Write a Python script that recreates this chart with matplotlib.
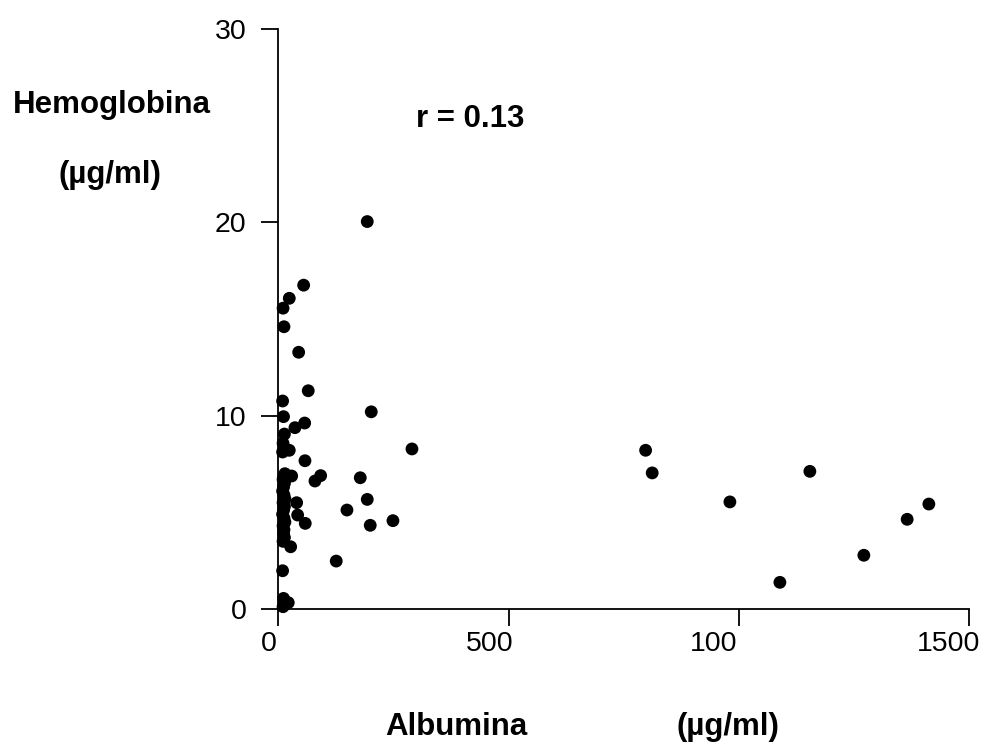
import matplotlib
matplotlib.use("Agg")
import matplotlib.pyplot as plt
import matplotlib.transforms as mtransforms

# Albumina (µg/ml) vs Hemoglobina (µg/ml)
albumina = [
    # dense cluster close to zero
    10, 12, 9, 11, 13, 10, 9, 14, 12, 10, 13, 11, 9, 12, 14, 10, 13, 11, 9, 12,
    14, 10, 12, 11, 13, 10, 9, 11, 10,
    # slightly right of the cluster
    23.5, 35.8, 23.5, 28.7, 16, 39.5, 41.7, 26.5, 21.3, 54.7, 43.9, 64.7, 56.9,
    57.6, 58.2, 79.3, 91.7, 125.5, 148.8, 177.7, 192.9, 192.9, 199.4, 201.6,
    248.7, 290,
    # far right
    797.6, 811.9, 980.7, 1089.3, 1154.4, 1271.7, 1365.8, 1412.9,
]
hemoglobina = [
    15.56, 14.6, 10.76, 9.95, 9.05, 8.57, 8.12, 7.0, 6.85, 6.7, 6.5, 6.3, 6.1,
    5.9, 5.7, 5.5, 5.3, 5.1, 4.9, 4.7, 4.5, 4.3, 4.1, 3.9, 3.7, 3.5, 1.98, 0.55,
    0.12,
    16.07, 9.38, 8.21, 6.88, 6.76, 5.5, 4.86, 3.22, 0.33, 16.75, 13.28, 11.29,
    9.62, 7.67, 4.43, 6.62, 6.9, 2.48, 5.12, 6.79, 20.04, 5.67, 4.33, 10.2,
    4.57, 8.28,
    8.21, 7.04, 5.54, 1.38, 7.12, 2.78, 4.64, 5.43,
]

x_ticks = [0, 500, 1000, 1500]
x_ticklabels = ["0", "500", "100", "1500"]
y_ticks = [0, 10, 20, 30]
y_ticklabels = ["0", "10", "20", "30"]

# horizontal shift of each x tick label (pixels), as in the reference
x_label_shift_px = [-9.5, -19, -25, -20]

plt.rcParams["font.family"] = ["Liberation Sans", "DejaVu Sans"]

fig = plt.figure(figsize=(9.85, 7.53), dpi=100)
ax = fig.add_axes([0.2827, 0.1912, 0.701, 0.7703])

ax.scatter(albumina, hemoglobina, s=85, color="black", edgecolors="none",
           clip_on=False, zorder=3)

ax.set_xlim(0, 1500)
ax.set_ylim(0, 30)
ax.set_xticks(x_ticks)
ax.set_xticklabels(x_ticklabels)
ax.set_yticks(y_ticks)
ax.set_yticklabels(y_ticklabels)

for s in ["top", "right"]:
    ax.spines[s].set_visible(False)
for s in ["left", "bottom"]:
    ax.spines[s].set_linewidth(1.3)
    ax.spines[s].set_color("black")

ax.tick_params(axis="x", direction="out", length=12, width=1.3, pad=4,
               labelsize=20.5, colors="black")
ax.tick_params(axis="y", direction="out", length=12, width=1.3, pad=11,
               labelsize=20.5, colors="black")

for lab, dx in zip(ax.get_xticklabels(), x_label_shift_px):
    lab.set_transform(lab.get_transform() + mtransforms.ScaledTranslation(
        dx / 100.0, 0, fig.dpi_scale_trans))

fig.text(112 / 985, 1 - 105 / 753, "Hemoglobina", fontsize=22.5,
         fontweight="bold", ha="center", va="center")
fig.text(110 / 985, 1 - 175 / 753, "(µg/ml)", fontsize=22.5,
         fontweight="bold", ha="center", va="center")
fig.text(470 / 985, 1 - 119 / 753, "r = 0.13", fontsize=22.5,
         fontweight="bold", ha="center", va="center")
fig.text(456 / 985, 1 - 727 / 753, "Albumina", fontsize=22.5,
         fontweight="bold", ha="center", va="center")
fig.text(728 / 985, 1 - 727 / 753, "(µg/ml)", fontsize=22.5,
         fontweight="bold", ha="center", va="center")

fig.savefig("out.png", dpi=100, facecolor="white")
